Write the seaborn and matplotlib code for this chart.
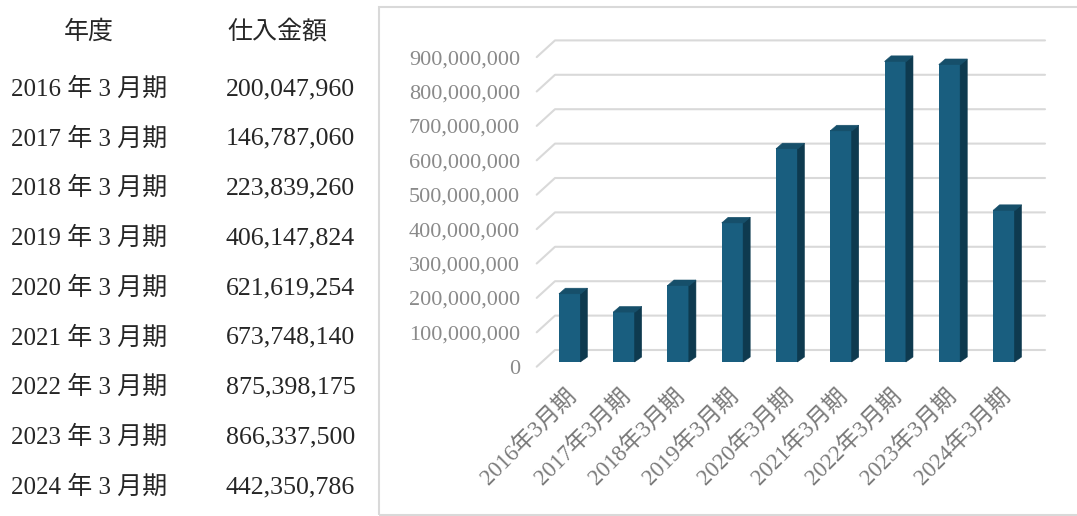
import numpy as np
import pandas as pd
import matplotlib
matplotlib.use("Agg")
import matplotlib.pyplot as plt
import seaborn as sns
from matplotlib.patches import Polygon, Rectangle
from matplotlib.transforms import ScaledTranslation

# ---- data -------------------------------------------------------------
periods = ["2016年3月期", "2017年3月期", "2018年3月期", "2019年3月期", "2020年3月期",
           "2021年3月期", "2022年3月期", "2023年3月期", "2024年3月期"]
table_periods = ["2016 年 3 月期", "2017 年 3 月期", "2018 年 3 月期", "2019 年 3 月期",
                 "2020 年 3 月期", "2021 年 3 月期", "2022 年 3 月期", "2023 年 3 月期",
                 "2024 年 3 月期"]
amounts = [200047960, 146787060, 223839260, 406147824, 621619254,
           673748140, 875398175, 866337500, 442350786]
y_ticks = [0, 100000000, 200000000, 300000000, 400000000,
           500000000, 600000000, 700000000, 800000000, 900000000]
table_header = ["年度", "仕入金額"]

# ---- style ------------------------------------------------------------
W, H, DPI = 1077, 516, 100
FRONT = "#195e7f"
SIDE = "#0e3a4f"
TOP = "#164f6a"
GRID = "#d9d9d9"
TICK_GRAY = "#8a8a8a"
XTICK_GRAY = "#7a7a7a"
TEXT = "#262626"
FONT = ["Liberation Serif", "Noto Sans CJK JP"]

# depth offsets in pixels (x right, y up)
WALL_DX, WALL_DY = 18.3, 16.7     # back wall relative to the front plane
BAR_DX, BAR_DY = 5.0, 4.7         # bar front face relative to the front plane
DEPTH_DX, DEPTH_DY = 6.5, 5.0     # bar thickness

sns.set_theme(style="white")
plt.rcParams["font.family"] = FONT

fig = plt.figure(figsize=(W / DPI, H / DPI), dpi=DPI)
fig.patch.set_facecolor("white")

# front plane of the 3-D column chart
ax = fig.add_axes([536.7 / W, 1 - 366.7 / H, 490 / W, 309.6 / H])
ax.set_facecolor("none")

df = pd.DataFrame({"period": periods, "amount": amounts})
sns.barplot(data=df, x="period", y="amount", color=FRONT, saturation=1,
            width=0.405, ax=ax, edgecolor="none", linewidth=0, zorder=3)

ax.set_xlim(-0.52, 8.51)
ax.set_ylim(0, 900000000)
ax.set_yticks(y_ticks)
ax.set_yticklabels([f"{v:,}" for v in y_ticks])
ax.set_xticks(range(len(periods)))
ax.set_xticklabels(periods, rotation=45, ha="right", rotation_mode="anchor")
ax.tick_params(axis="y", length=0, pad=12, labelsize=16, labelcolor=TICK_GRAY)
ax.tick_params(axis="x", length=0, pad=13, labelsize=16.5, labelcolor=XTICK_GRAY)
for s in ax.spines.values():
    s.set_visible(False)
ax.grid(False)
ax.set_xlabel("")
ax.set_ylabel("")


def shifted(points, dx, dy):
    """Move data points by a pixel offset and return them in data units."""
    disp = ax.transData.transform(np.atleast_2d(points)) + np.array([dx, dy])
    return ax.transData.inverted().transform(disp)


# gridlines on the back wall plus the diagonal from the front plane
x0, x1 = ax.get_xlim()
for t in y_ticks:
    front = np.array([[x0, t]])
    back = shifted([[x0, t], [x1, t]], WALL_DX, WALL_DY)
    pts = np.vstack([front, back])
    ax.plot(pts[:, 0], pts[:, 1], color=GRID, lw=1.5, clip_on=False, zorder=0)

# extrude every bar: move the front face back a little, add side and top faces
bar_shift = ScaledTranslation(BAR_DX / DPI, BAR_DY / DPI, fig.dpi_scale_trans)
for p in list(ax.patches):
    bx, bw, bh = p.get_x(), p.get_width(), p.get_height()
    p.set_transform(ax.transData + bar_shift)
    p.set_clip_on(False)

    right_edge = shifted([[bx + bw, 0], [bx + bw, bh]], BAR_DX - 0.6, BAR_DY)
    right_back = shifted([[bx + bw, bh], [bx + bw, 0]],
                         BAR_DX + DEPTH_DX, BAR_DY + DEPTH_DY)
    ax.add_patch(Polygon(np.vstack([right_edge, right_back]), closed=True,
                         facecolor=SIDE, edgecolor=SIDE, lw=0.4,
                         clip_on=False, zorder=3))

    top_edge = shifted([[bx, bh], [bx + bw, bh]], BAR_DX, BAR_DY - 0.6)
    top_back = shifted([[bx + bw, bh], [bx, bh]],
                       BAR_DX + DEPTH_DX, BAR_DY + DEPTH_DY)
    ax.add_patch(Polygon(np.vstack([top_edge, top_back]), closed=True,
                         facecolor=TOP, edgecolor=TOP, lw=0.4,
                         clip_on=False, zorder=3.1))

# chart frame
fig.add_artist(Rectangle((379 / W, 1 - 515 / H), 720 / W, 508 / H,
                         transform=fig.transFigure, fill=False,
                         edgecolor=GRID, lw=1.5))

# table on the left
fig.text(89 / W, 1 - 32 / H, table_header[0], ha="center", va="center",
         fontsize=18, color=TEXT, family=FONT)
fig.text(227 / W, 1 - 32 / H, table_header[1], ha="left", va="center",
         fontsize=18, color=TEXT, family=FONT)
for i, (label, value) in enumerate(zip(table_periods, amounts)):
    y = 1 - (89 + 49.75 * i) / H
    fig.text(89 / W, y, label, ha="center", va="center",
             fontsize=18, color=TEXT, family=FONT)
    fig.text(226 / W, y, f"{value:,}", ha="left", va="center",
             fontsize=18.6, color=TEXT, family=FONT)

fig.savefig("out.png", dpi=DPI)
